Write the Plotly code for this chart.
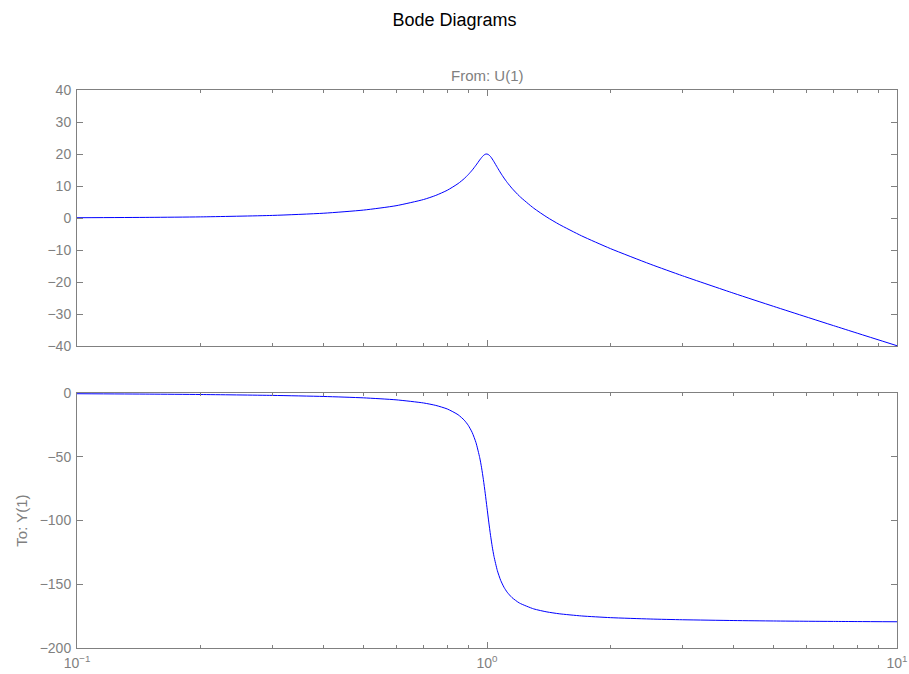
import plotly.graph_objects as go
from plotly.subplots import make_subplots

# Frequencies (rad/s) read along the log axis
freq = [0.1, 0.15, 0.2, 0.3, 0.4, 0.5, 0.6, 0.7, 0.75, 0.8, 0.85, 0.88, 0.9, 0.92,
        0.94, 0.96, 0.97, 0.98, 0.99, 1.0, 1.01, 1.02, 1.03, 1.04, 1.06, 1.08, 1.1,
        1.12, 1.15, 1.2, 1.3, 1.4, 1.5, 1.7, 2.0, 2.5, 3.0, 4.0, 5.0, 6.0, 7.0, 8.0, 10.0]

# Magnitude (dB)
magnitude = [0.09, 0.20, 0.35, 0.81, 1.50, 2.48, 3.84, 5.77, 7.06, 8.67, 10.75, 12.32,
             13.55, 14.94, 16.50, 18.14, 18.89, 19.52, 19.92, 20.00, 19.74, 19.20, 18.44,
             17.58, 15.77, 14.05, 12.50, 11.12, 9.31, 6.82, 3.07, 0.26, -2.00, -5.56,
             -9.56, -14.41, -18.07, -23.53, -27.61, -30.88, -33.63, -35.99, -39.91]

# Phase (deg)
phase = [-0.58, -0.88, -1.19, -1.89, -2.73, -3.81, -5.36, -7.82, -9.73, -12.53, -17.03,
         -21.31, -25.35, -30.92, -38.92, -50.77, -58.65, -68.00, -78.64, -90.00, -101.25,
         -111.60, -120.59, -128.12, -139.38, -147.00, -152.35, -156.24, -160.38, -164.74,
         -169.33, -171.70, -173.16, -174.86, -176.19, -177.27, -177.85, -178.47, -178.81,
         -179.02, -179.16, -179.27, -179.42]

mag_ticks = [-40, -30, -20, -10, 0, 10, 20, 30, 40]
phase_ticks = [-200, -150, -100, -50, 0]
decades = [0.1, 1, 10]
decade_labels = ["10<sup>\u22121</sup>", "10<sup>0</sup>", "10<sup>1</sup>"]
minor_vals = [round(d * m, 6) for d in [0.1, 1] for m in range(2, 10)]

GREY = "#808080"
FONT = "Liberation Sans, Arial"
fig = make_subplots(rows=2, cols=1, vertical_spacing=0.0)

fig.add_trace(go.Scatter(x=freq, y=magnitude, mode="lines",
                         line=dict(color="#0000ff", width=1, shape="spline", smoothing=0.6),
                         showlegend=False, hoverinfo="skip"), row=1, col=1)
fig.add_trace(go.Scatter(x=freq, y=phase, mode="lines",
                         line=dict(color="#0000ff", width=1, shape="spline", smoothing=0.6),
                         showlegend=False, hoverinfo="skip"), row=2, col=1)

axis_common = dict(showline=True, linecolor=GREY, linewidth=1, mirror="ticks", ticks="inside",
                   ticklen=6, tickcolor=GREY, showgrid=False, zeroline=False, automargin=False,
                   tickfont=dict(family=FONT, size=14, color=GREY))

fig.update_xaxes(type="log", range=[-1, 1], tickvals=decades,
                 minor=dict(tickvals=minor_vals, ticks="inside", ticklen=3, tickcolor=GREY,
                            showgrid=False),
                 **axis_common)
fig.update_xaxes(ticktext=["", "", ""], row=1, col=1)
fig.update_xaxes(ticktext=decade_labels, ticklabelstandoff=2, row=2, col=1)
fig.update_yaxes(ticklabelstandoff=2, **axis_common)
fig.update_yaxes(range=[-40, 40], tickvals=mag_ticks, row=1, col=1)
fig.update_yaxes(range=[-200, 0], tickvals=phase_ticks, row=2, col=1,
                 title=dict(text="To: Y(1)", standoff=8,
                            font=dict(family=FONT, size=15, color=GREY)))

fig.update_layout(xaxis=dict(domain=[0, 1]), yaxis=dict(domain=[0.5412, 1.0]),
                  xaxis2=dict(domain=[0, 1]), yaxis2=dict(domain=[0.0, 0.457]))

fig.add_annotation(text="From: U(1)", xref="paper", yref="paper", x=0.5, y=1.0,
                   xanchor="center", yanchor="bottom", yshift=4, showarrow=False,
                   font=dict(family=FONT, size=15, color=GREY))

fig.update_layout(
    width=909, height=674,
    margin=dict(l=77, r=12, t=90, b=26, autoexpand=False),
    paper_bgcolor="white", plot_bgcolor="white",
    title=dict(text="Bode Diagrams", x=0.5, xanchor="center", y=1 - 20 / 674, yanchor="middle",
               font=dict(family=FONT, size=18, color="black")),
)

fig.write_html("out.html")
